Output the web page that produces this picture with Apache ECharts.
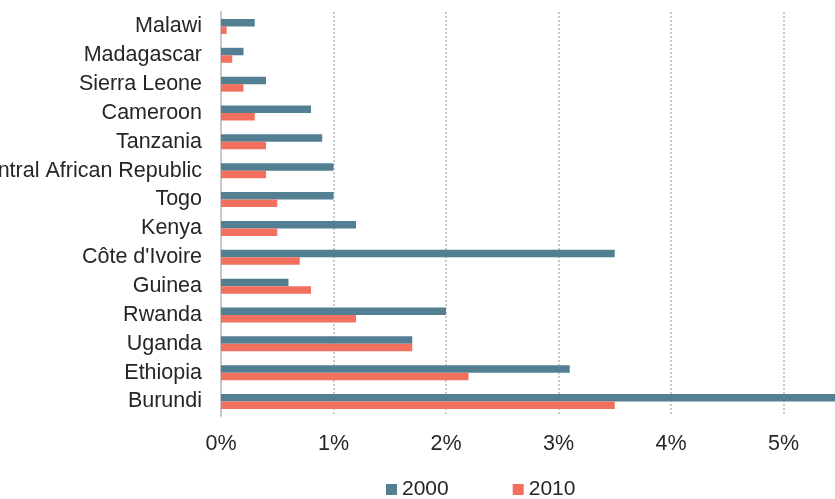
<!DOCTYPE html>
<html>
<head>
<meta charset="utf-8">
<script src="https://cdn.jsdelivr.net/npm/echarts@6/dist/echarts.min.js"></script>
<style>
  html, body { margin: 0; padding: 0; background: #ffffff; }
  #chart { width: 835px; height: 499px; }
</style>
</head>
<body>
<div id="chart"></div>
<script>
// Countries listed top to bottom
const countries = ['Malawi', 'Madagascar', 'Sierra Leone', 'Cameroon', 'Tanzania',
  'Central African Republic', 'Togo', 'Kenya', "Côte d'Ivoire", 'Guinea',
  'Rwanda', 'Uganda', 'Ethiopia', 'Burundi'];

// Share values in percent
const values2000 = [0.3, 0.2, 0.4, 0.8, 0.9, 1.0, 1.0, 1.2, 3.5, 0.6, 2.0, 1.7, 3.1, 6.0];
const values2010 = [0.05, 0.1, 0.2, 0.3, 0.4, 0.4, 0.5, 0.5, 0.7, 0.8, 1.2, 1.7, 2.2, 3.5];

const seriesNames = ['2000', '2010'];
const seriesColors = ['#537f92', '#f3705f'];

const chart = echarts.init(document.getElementById('chart'), null, { renderer: 'canvas' });

const textFont = 'Liberation Sans, Arial, sans-serif';

chart.setOption({
  animation: false,
  backgroundColor: '#ffffff',
  textStyle: { fontFamily: textFont },
  grid: {
    left: 221, top: 12, height: 404, right: -61,
    containLabel: false,
    outerBoundsMode: 'none'
  },
  legend: {
    data: seriesNames,
    left: 381,
    top: 474,
    itemWidth: 11,
    itemHeight: 11,
    itemGap: 64,
    icon: 'rect',
    textStyle: { fontSize: 21, color: '#262626', fontFamily: textFont }
  },
  xAxis: {
    type: 'value',
    min: 0,
    max: 6,
    interval: 1,
    axisLine: { show: false },
    axisTick: { show: false },
    axisLabel: {
      fontSize: 21.5,
      color: '#262626',
      margin: 17,
      formatter: v => v + '%'
    },
    splitLine: {
      show: true,
      lineStyle: { color: '#c8c8c8', width: 2, type: [2, 2] }
    }
  },
  yAxis: {
    type: 'category',
    data: countries,
    inverse: true,
    axisLine: { show: true, lineStyle: { color: '#c8c8c8', width: 2 } },
    axisTick: { show: false },
    axisLabel: { fontSize: 21.5, color: '#262626', margin: 19 },
    splitLine: { show: false }
  },
  series: [
    {
      name: seriesNames[0],
      type: 'bar',
      data: values2000,
      barWidth: 7.5,
      barGap: '0%',
      itemStyle: { color: seriesColors[0] }
    },
    {
      name: seriesNames[1],
      type: 'bar',
      data: values2010,
      barWidth: 7.5,
      barGap: '0%',
      itemStyle: { color: seriesColors[1] }
    }
  ]
});
</script>
</body>
</html>
